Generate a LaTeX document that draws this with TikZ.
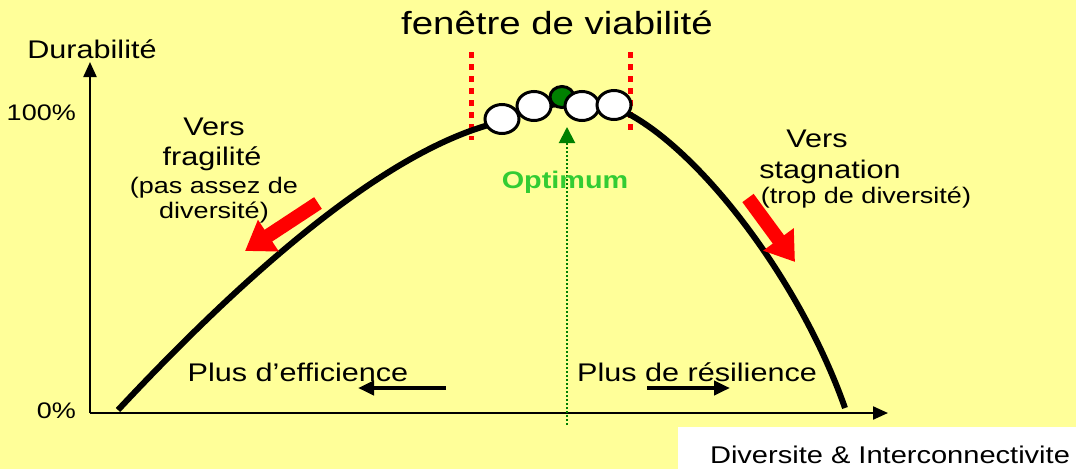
\documentclass[tikz,border=0pt]{standalone}
\usepackage{fontspec}
\setmainfont{Liberation Sans}[FakeStretch=1.2]
\usetikzlibrary{arrows.meta, shapes.geometric}

\definecolor{bgyellow}{RGB}{255,255,153}
\definecolor{optgreen}{RGB}{51,204,51}
\definecolor{darkgreen}{RGB}{0,128,0}

\begin{document}
\begin{tikzpicture}[
  x = 1pt, y = -1pt,
  every node/.style = {inner sep=0pt, anchor=base},
  big/.style   = {font=\fontsize{25.5}{27}\selectfont},
  small/.style = {font=\fontsize{22.5}{24}\selectfont},
  axis/.style  = {draw, line width=2.2pt, -{Triangle[length=15pt,width=13pt]}},
  courbe/.style = {draw, line width=6pt},
  bulle/.style = {draw, ellipse, line width=3pt, fill=white, anchor=center,
                  minimum width=34pt, minimum height=29pt},
  fenetre/.style = {draw=red, line width=5pt, dash pattern=on 6pt off 6pt},
  sens/.style  = {draw=red, line width=14pt, -{Triangle[length=28pt,width=36pt]}},
  plus/.style  = {draw, line width=4pt, -{Triangle[length=16pt,width=14pt]}},
]

% fond
\fill[bgyellow] (0,0) rectangle (1076,469);
\fill[white] (678,427) rectangle (1076,469);

% axes
\coordinate (origin) at (90,413);
\coordinate (ytip)   at (90,62);
\coordinate (xtip)   at (888,413);
\draw[axis] (origin) -- (ytip);
\draw[axis] (origin) -- (xtip);

\node[big]   (durab) at (92,58)  {Durabilité};
\node[small, anchor=base east] (cent) at (76,120) {100\%};
\node[small, anchor=base east] (zero) at (76,418) {0\%};
\node[font=\fontsize{24.2}{26}\selectfont] (divers) at (890,463) {Diversite \& Interconnectivite};
\node[font=\fontsize{32}{34}\selectfont] (titre) at (557,34) {fenêtre de viabilité};

% fenetre de viabilite
\coordinate (fgh) at (471,52);
\coordinate (fgb) at (471,140);
\coordinate (fdh) at (630,52);
\coordinate (fdb) at (630,134);
\draw[fenetre] (fgh) -- (fgb);
\draw[fenetre] (fdh) -- (fdb);

% courbe
\coordinate (debut) at (118,410);
\coordinate (gauche) at (500,122);
\coordinate (droite) at (625,112);
\coordinate (fin) at (845,408);
\draw[courbe] (debut) .. controls (230,290) and (380,150) .. (gauche)
  .. controls (540,100) and (590,98) .. (droite)
  .. controls (700,150) and (800,280) .. (fin);

% optimum
\coordinate (optbas) at (567,425);
\coordinate (opthaut) at (567,127);
\draw[darkgreen, line width=2pt, dash pattern=on 2pt off 2pt,
      -{Triangle[length=16pt,width=16pt]}] (optbas) -- (opthaut);
\node[font=\fontsize{24}{26}\selectfont\bfseries, text=optgreen] (optimum) at (565,188) {Optimum};

% bulles
\node[bulle, fill=darkgreen, minimum width=24pt, minimum height=21pt] (vert) at (562,97) {};
\foreach \n/\cx/\cy in {b1/502/119, b2/534/106, b3/582/106, b4/614/105}
  \node[bulle] (\n) at (\cx,\cy) {};

% textes gauche
\node[big]   (versg) at (214,135) {Vers};
\node[big]   (frag)  at (212,165) {fragilité};
\node[small] (pas)   at (214,193) {(pas assez de};
\node[small] (divg)  at (214,218) {diversité)};

% textes droite
\node[big]   (versd) at (817,147) {Vers};
\node[big]   (stag)  at (830,178) {stagnation};
\node[small] (trop)  at (866,203) {(trop de diversité)};

% fleches rouges
\coordinate (rg1) at (318,203);
\coordinate (rg2) at (245,251);
\coordinate (rd1) at (748,198);
\coordinate (rd2) at (795,262);
\draw[sens] (rg1) -- (rg2);
\draw[sens] (rd1) -- (rd2);

% efficience / resilience
\node[big] (effic) at (298,381) {Plus d’efficience};
\node[big] (resil) at (697,381) {Plus de résilience};
\coordinate (e1) at (446,388);
\coordinate (e2) at (358,388);
\coordinate (r1) at (647,388);
\coordinate (r2) at (730,388);
\draw[plus] (e1) -- (e2);
\draw[plus] (r1) -- (r2);

\end{tikzpicture}
\end{document}
